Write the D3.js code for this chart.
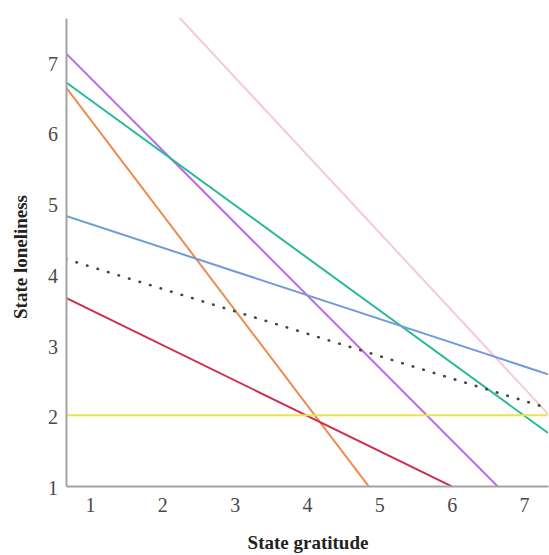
<!DOCTYPE html>
<html>
<head>
<meta charset="utf-8">
<script src="https://d3js.org/d3.v7.min.js"></script>
<style>
  body { margin: 0; background: #fff; }
  text { font-family: "Liberation Serif", "Times New Roman", serif; }
</style>
</head>
<body>
<div id="chart"></div>
<script>
var width = 549,
    height = 555;

// x range of the plot and the groups' fitted values at both ends of it
var xMin = 0.67, xMax = 7.33;
var groups = ["purple", "teal", "orange", "pink", "blue", "total", "red", "yellow"];
var yAtLeft  = [7.12, 6.71, 6.64, 9.35, 4.82, 4.21, 3.66, 2.00];
var yAtRight = [0.28, 1.75, -2.35, 2.02, 2.58, 2.10, 0.33, 2.00];
var colors = ["#b36ee6", "#2bb99b", "#ec8b4f", "#f4c9d8", "#6f9bd8", "#444444", "#cc2f50", "#ece34d"];
var xTicks = [1, 2, 3, 4, 5, 6, 7];
var yTicks = [1, 2, 3, 4, 5, 6, 7];

var margin = {top: 18, right: 1, bottom: 69, left: 66};

var svg = d3.select("#chart")
    .append("svg")
    .attr("width", width)
    .attr("height", height);

var x = d3.scaleLinear()
    .domain([xMin, xMax])
    .range([margin.left, width - margin.right]);

var y = d3.scaleLinear()
    .domain([1, 7.62])
    .range([height - margin.bottom, margin.top]);

svg.append("clipPath")
    .attr("id", "plot-clip")
    .append("rect")
    .attr("x", margin.left)
    .attr("y", margin.top)
    .attr("width", width - margin.right - margin.left)
    .attr("height", height - margin.bottom - margin.top);

var line = d3.line()
    .x(function (d) { return x(d[0]); })
    .y(function (d) { return y(d[1]); });

svg.append("g")
    .attr("clip-path", "url(#plot-clip)")
    .selectAll("path")
    .data(groups)
    .enter()
    .append("path")
    .attr("d", function (d, i) { return line([[xMin, yAtLeft[i]], [xMax, yAtRight[i]]]); })
    .attr("fill", "none")
    .attr("stroke", function (d, i) { return colors[i]; })
    .attr("stroke-width", function (d) { return d == "total" ? 2.6 : 2; })
    .attr("stroke-dasharray", function (d) { return d == "total" ? "0.5,10.5" : null; })
    .attr("stroke-linecap", function (d) { return d == "total" ? "round" : "butt"; });

// axes, no tick marks
var xAxis = svg.append("g")
    .attr("transform", "translate(0," + (height - margin.bottom) + ")")
    .call(d3.axisBottom(x).tickValues(xTicks).tickFormat(d3.format("d")).tickSize(0).tickPadding(12));

var yAxis = svg.append("g")
    .attr("transform", "translate(" + margin.left + ",0)")
    .call(d3.axisLeft(y).tickValues(yTicks).tickFormat(d3.format("d")).tickSize(0).tickPadding(8));

[xAxis, yAxis].forEach(function (g) {
    g.select(".domain")
        .attr("stroke", "#a3a3a3")
        .attr("stroke-width", 2);
    g.selectAll("text")
        .attr("fill", "#4a4a4a")
        .style("font-size", "20px")
        .style("font-family", "'Liberation Serif', serif");
});
yAxis.selectAll("text").attr("dy", "0.42em");

svg.append("text")
    .attr("x", 308)
    .attr("y", 549)
    .attr("text-anchor", "middle")
    .attr("fill", "#222")
    .style("font-size", "19px")
    .style("font-weight", "bold")
    .text("State gratitude");

svg.append("text")
    .attr("transform", "translate(27,257) rotate(-90)")
    .attr("text-anchor", "middle")
    .attr("fill", "#222")
    .style("font-size", "19px")
    .style("font-weight", "bold")
    .text("State loneliness");
</script>
</body>
</html>
